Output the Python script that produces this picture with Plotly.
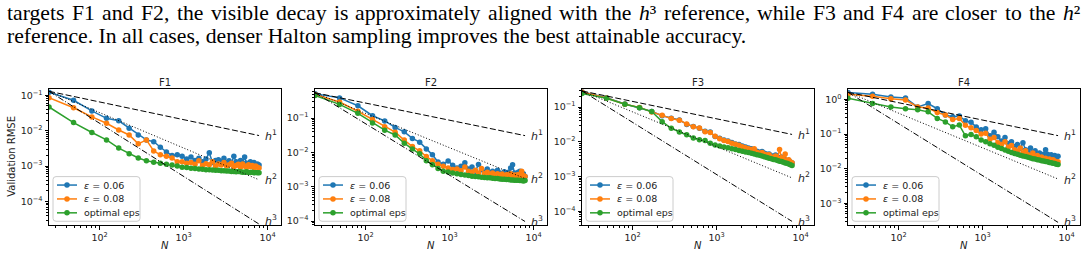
import numpy as np
import plotly.graph_objects as go

# ---------------- data ----------------
N = [25, 49, 81, 121, 169, 225, 289, 361, 441, 529,
     625, 729, 841, 961, 1089, 1225, 1369, 1521, 1681, 1849,
     2025, 2209, 2401, 2601, 2809, 3025, 3249, 3481, 3721, 3969,
     4225, 4489, 4761, 5041, 5329, 5625, 5929, 6241, 6561, 6889,
     7225, 7569, 7921]

panel_titles = ["F1", "F2", "F3", "F4"]
series_names = ["<i>ε</i> = 0.06", "<i>ε</i> = 0.08", "optimal eps"]

# validation RMSE, stored as log10 values
f1_eps006 = [-0.91, -1.14, -1.44, -1.65, -1.72, -1.93, -2.12, -2.26, -2.31, -2.47,
             -2.60, -2.70, -2.68, -2.72, -2.80, -2.74, -2.84, -2.78, -2.88, -2.80,
             -2.62, -2.90, -2.84, -2.82, -2.88, -2.78, -2.90, -2.85, -2.92, -2.72,
             -2.88, -2.94, -2.84, -2.92, -2.74, -2.92, -2.96, -2.88, -2.95, -2.90,
             -2.98, -2.94, -2.97]
f1_eps008 = [-1.07, -1.35, -1.61, -1.79, -1.98, -2.12, -2.37, -2.26, -2.57, -2.68,
             -2.72, -2.77, -2.88, -2.88, -2.92, -2.90, -2.95, -2.85, -2.98, -2.93,
             -2.96, -2.88, -3.00, -2.94, -2.97, -2.90, -3.00, -2.96, -2.92, -3.02,
             -2.98, -2.95, -3.03, -2.94, -3.00, -3.04, -2.96, -3.02, -2.98, -3.04,
             -3.00, -3.03, -3.05]
f1_opt = [-1.33, -1.77, -2.05, -2.26, -2.49, -2.65, -2.77, -2.85, -2.89, -2.92,
          -2.95, -2.97, -3.00, -3.03, -3.04, -3.06, -3.07, -3.08, -3.09, -3.10,
          -3.10, -3.11, -3.12, -3.12, -3.13, -3.13, -3.14, -3.14, -3.15, -3.15,
          -3.16, -3.15, -3.16, -3.17, -3.17, -3.16, -3.18, -3.18, -3.17, -3.19,
          -3.18, -3.19, -3.19]

f2_eps006 = [-0.29, -0.41, -0.64, -0.93, -1.08, -1.27, -1.40, -1.59, -1.70, -1.90,
             -2.07, -2.28, -2.34, -2.25, -2.37, -2.45, -2.40, -2.30, -2.48, -2.42,
             -2.55, -2.35, -2.50, -2.58, -2.48, -2.60, -2.55, -2.62, -2.52, -2.60,
             -2.64, -2.56, -2.62, -2.58, -2.45, -2.36, -2.60, -2.65, -2.58, -2.55,
             -2.66, -2.62, -2.70]
f2_eps008 = [-0.31, -0.53, -0.80, -1.04, -1.25, -1.41, -1.64, -1.83, -1.95, -2.12,
             -2.24, -2.34, -2.40, -2.45, -2.50, -2.48, -2.53, -2.42, -2.55, -2.58,
             -2.52, -2.60, -2.47, -2.62, -2.58, -2.64, -2.60, -2.66, -2.62, -2.67,
             -2.63, -2.68, -2.65, -2.66, -2.62, -2.68, -2.66, -2.69, -2.64, -2.68,
             -2.55, -2.67, -2.70]
f2_opt = [-0.34, -0.60, -0.86, -1.14, -1.35, -1.49, -1.73, -1.90, -2.04, -2.24,
          -2.36, -2.47, -2.55, -2.57, -2.60, -2.62, -2.64, -2.66, -2.67, -2.69,
          -2.70, -2.71, -2.72, -2.73, -2.74, -2.74, -2.75, -2.76, -2.76, -2.77,
          -2.78, -2.78, -2.79, -2.79, -2.80, -2.80, -2.81, -2.81, -2.81, -2.82,
          -2.82, -2.83, -2.82]

f3_eps006 = [-0.56, -0.73, -0.91, -1.02, -1.13, -1.25, -1.32, -1.37, -1.50, -1.56,
             -1.61, -1.70, -1.72, -1.85, -1.90, -1.95, -1.98, -2.02, -2.06, -2.08,
             -2.12, -2.15, -2.18, -2.20, -2.28, -2.27, -2.30, -2.28, -2.33, -2.36,
             -2.35, -2.40, -2.42, -2.38, -2.45, -2.48, -2.44, -2.50, -2.52, -2.55,
             -2.53, -2.58, -2.61]
f3_eps008 = [-0.57, -0.74, -0.92, -1.01, -1.14, -1.24, -1.33, -1.38, -1.49, -1.57,
             -1.60, -1.71, -1.73, -1.84, -1.91, -1.96, -1.99, -2.04, -2.07, -2.10,
             -2.14, -2.17, -2.20, -2.22, -2.20, -2.30, -2.33, -2.31, -2.36, -2.38,
             -2.37, -2.44, -2.45, -2.41, -2.47, -2.22, -2.46, -2.52, -2.35, -2.55,
             -2.52, -2.58, -2.60]
f3_opt = [-0.61, -0.75, -0.92, -1.02, -1.13, -1.42, -1.61, -1.72, -1.80, -1.89,
          -1.94, -1.96, -2.04, -2.09, -2.12, -2.15, -2.17, -2.20, -2.22, -2.25,
          -2.27, -2.29, -2.31, -2.33, -2.35, -2.37, -2.39, -2.41, -2.43, -2.45,
          -2.47, -2.49, -2.51, -2.52, -2.54, -2.56, -2.57, -2.59, -2.61, -2.62,
          -2.64, -2.66, -2.68]

f4_eps006 = [0.20, 0.15, 0.07, 0.04, -0.22, -0.12, -0.27, -0.45, -0.50, -0.48,
             -0.62, -0.66, -0.80, -0.88, -0.85, -1.05, -0.95, -1.08, -1.20, -1.10,
             -1.28, -1.22, -1.36, -1.30, -1.42, -1.25, -1.45, -1.52, -1.40, -1.55,
             -1.48, -1.60, -1.55, -1.62, -1.58, -1.45, -1.58, -1.66, -1.60, -1.70,
             -1.62, -1.68, -1.64]
f4_eps008 = [0.15, 0.09, 0.02, -0.02, -0.22, -0.25, -0.38, -0.45, -0.58, -0.55,
             -0.75, -0.82, -0.90, -1.00, -0.98, -1.15, -1.10, -1.25, -1.30, -1.22,
             -1.38, -1.33, -1.45, -1.50, -1.40, -1.55, -1.48, -1.60, -1.65, -1.55,
             -1.68, -1.62, -1.72, -1.66, -1.75, -1.70, -1.78, -1.72, -1.80, -1.74,
             -1.78, -1.82, -1.80]
f4_opt = [0.03, -0.12, -0.22, -0.27, -0.30, -0.36, -0.55, -0.65, -0.79, -0.74,
          -1.05, -1.01, -1.08, -1.17, -1.22, -1.28, -1.32, -1.38, -1.42, -1.46,
          -1.50, -1.53, -1.56, -1.58, -1.61, -1.63, -1.65, -1.67, -1.69, -1.71,
          -1.72, -1.74, -1.75, -1.77, -1.78, -1.79, -1.80, -1.82, -1.83, -1.84,
          -1.85, -1.87, -1.88]

panels = [
    [f1_eps006, f1_eps008, f1_opt],
    [f2_eps006, f2_eps008, f2_opt],
    [f3_eps006, f3_eps008, f3_opt],
    [f4_eps006, f4_eps008, f4_opt],
]

# reference slopes h^p with h ~ N^(-1/2), anchored at the first N
ref_start = [0.13, 0.55, 0.29, 1.6]
ref_orders = [1, 2, 3]
ref_labels = ["<i>h</i><sup>1</sup>", "<i>h</i><sup>2</sup>", "<i>h</i><sup>3</sup>"]

x_tick_exps = [2, 3, 4]
y_tick_exps = [[-4, -3, -2, -1], [-4, -3, -2, -1], [-4, -3, -2, -1], [-3, -2, -1, 0]]

caption_line1 = ("targets F1 and F2, the visible decay is approximately aligned with the "
                 "h³ reference, while F3 and F4 are closer to the h²")
caption_line2 = "reference. In all cases, denser Halton sampling improves the best attainable accuracy."

# ---------------- styling / layout ----------------
W, H = 1089, 256
colors = ["#1f77b4", "#ff7f0e", "#2ca02c"]
ref_dash = ["6px,2.5px", "1px,2px", "6px,2px,1px,2px"]
x_left = [49, 315, 582, 848]
panel_w = 232
y_top, y_bot = 89, 226
x_range = [np.log10(25), 4.16]
y_ranges = [[-4.67, -0.83], [-4.12, -0.16], [-4.40, -0.49], [-3.63, 0.29]]
font_sans = "DejaVu Sans"
txt_col = "#222222"
serif = "Liberation Serif"
cap_size = 21.7
cap_left, cap_right = 6, 1079

# Times-compatible advance widths (1/1000 em) used only to justify the caption line
_tw = dict(zip("abcdefghijklmnopqrstuvwxyz",
               [444, 500, 444, 500, 444, 333, 500, 500, 278, 278, 500, 278, 778,
                500, 500, 500, 500, 333, 389, 278, 500, 500, 722, 500, 500, 444]))
_tw.update({"F": 556, "H": 722, "I": 333, ",": 250, ".": 250, " ": 250,
            "²": 300, "³": 300})
_tw.update({d: 500 for d in "0123456789"})


def word_width(w):
    return sum(_tw.get(c, 500) for c in w) * cap_size / 1000


def word_markup(w):
    if w in ("h³", "h²"):
        return "<i>h</i>" + w[1:]
    return w


def px(x):
    return x / W


def py(y):
    return (H - y) / H


def pow_text(k):
    s = str(k).replace("-", "\u2212")
    return "10<sup>" + s + "</sup>"


fig = go.Figure()
annotations = []
shapes = []
layout_axes = {}

for i in range(4):
    sfx = "" if i == 0 else str(i + 1)
    xref, yref = "x" + sfx, "y" + sfx
    for s in range(3):
        fig.add_trace(go.Scatter(
            x=N, y=np.power(10.0, panels[i][s]), mode="lines+markers",
            name=series_names[s], line=dict(color=colors[s], width=1.5),
            marker=dict(color=colors[s], size=5.5, symbol="circle"),
            xaxis=xref, yaxis=yref, showlegend=False))
    for k, p in enumerate(ref_orders):
        y0 = ref_start[i]
        y1 = y0 * (N[0] / N[-1]) ** (p / 2)
        fig.add_trace(go.Scatter(
            x=[N[0], N[-1]], y=[y0, y1], mode="lines",
            line=dict(color="black", width=1, dash=ref_dash[k]),
            xaxis=xref, yaxis=yref, showlegend=False, hoverinfo="skip"))
        ylab = np.log10(y1)
        ylab = min(ylab, y_ranges[i][1]) if k < 2 else max(ylab, y_ranges[i][0] + 0.12)
        annotations.append(dict(
            x=np.log10(N[-1] * 1.12), y=ylab, xref=xref, yref=yref,
            text=ref_labels[k], showarrow=False, xanchor="left", yanchor="middle",
            font=dict(family=font_sans, size=11, color=txt_col)))

    axis_common = dict(
        showline=True, linecolor="black", linewidth=1, mirror=True,
        ticks="outside", ticklen=3.5, tickwidth=1, tickcolor="black",
        showgrid=False, zeroline=False,
        tickfont=dict(family=font_sans, size=9.5, color=txt_col),
        minor=dict(ticks="outside", ticklen=2, tickwidth=0.8, tickcolor="black",
                   dtick="D1", showgrid=False))
    layout_axes["xaxis" + sfx] = dict(
        type="log", range=x_range, anchor=yref,
        tickmode="array", tickvals=[10.0 ** e for e in x_tick_exps],
        ticktext=[pow_text(e) for e in x_tick_exps],
        domain=[px(x_left[i]), px(x_left[i] + panel_w)], **axis_common)
    layout_axes["yaxis" + sfx] = dict(
        type="log", range=y_ranges[i], anchor=xref,
        tickmode="array", tickvals=[10.0 ** e for e in y_tick_exps[i]],
        ticktext=[pow_text(e) for e in y_tick_exps[i]],
        domain=[py(y_bot), py(y_top)], **axis_common)

    # ---- legend (drawn by hand, matplotlib style) ----
    L = x_left[i]
    bx0, bx1, by0, by1, r = L + 4, L + 91, 177, 222, 3
    path = (f"M {px(bx0 + r)},{py(by0)} L {px(bx1 - r)},{py(by0)} "
            f"Q {px(bx1)},{py(by0)} {px(bx1)},{py(by0 + r)} "
            f"L {px(bx1)},{py(by1 - r)} Q {px(bx1)},{py(by1)} {px(bx1 - r)},{py(by1)} "
            f"L {px(bx0 + r)},{py(by1)} Q {px(bx0)},{py(by1)} {px(bx0)},{py(by1 - r)} "
            f"L {px(bx0)},{py(by0 + r)} Q {px(bx0)},{py(by0)} {px(bx0 + r)},{py(by0)} Z")
    shapes.append(dict(type="path", path=path, xref="paper", yref="paper",
                       fillcolor="rgba(255,255,255,0.8)",
                       line=dict(color="#cccccc", width=1), layer="above"))
    for s in range(3):
        ry = 185.5 + 14 * s
        shapes.append(dict(type="line", xref="paper", yref="paper",
                           x0=px(L + 8), x1=px(L + 28), y0=py(ry), y1=py(ry),
                           line=dict(color=colors[s], width=1.5), layer="above"))
        shapes.append(dict(type="circle", xref="paper", yref="paper",
                           x0=px(L + 18 - 2.75), x1=px(L + 18 + 2.75),
                           y0=py(ry + 2.75), y1=py(ry - 2.75),
                           fillcolor=colors[s], line=dict(width=0), layer="above"))
        annotations.append(dict(
            x=px(L + 33), y=py(ry), xref="paper", yref="paper", text=series_names[s],
            showarrow=False, xanchor="left", yanchor="middle",
            font=dict(family=font_sans, size=9.5, color=txt_col)))

    cx = px(x_left[i] + panel_w / 2)
    annotations.append(dict(
        x=cx, y=py(82), xref="paper", yref="paper", text=panel_titles[i],
        showarrow=False, xanchor="center", yanchor="middle",
        font=dict(family=font_sans, size=10, color=txt_col)))
    annotations.append(dict(
        x=cx, y=py(246.5), xref="paper", yref="paper", text="<i>N</i>",
        showarrow=False, xanchor="center", yanchor="middle",
        font=dict(family=font_sans, size=10, color=txt_col)))

annotations.append(dict(
    x=px(12), y=py(157), xref="paper", yref="paper", text="Validation RMSE",
    textangle=-90, showarrow=False, xanchor="center", yanchor="middle",
    font=dict(family=font_sans, size=10, color=txt_col)))

# ---- caption text: first line justified word by word, second line flush left ----
cap_font = dict(family=serif, size=cap_size, color="black")
words = caption_line1.split(" ")
widths = [word_width(w) for w in words]
gap = (cap_right - cap_left - sum(widths)) / (len(words) - 1)
xpos = cap_left
for w, wd in zip(words, widths):
    annotations.append(dict(
        x=px(xpos), y=py(12.5), xref="paper", yref="paper", text=word_markup(w),
        showarrow=False, xanchor="left", yanchor="middle", font=cap_font,
        borderpad=0))
    xpos += wd + gap
annotations.append(dict(
    x=px(cap_left), y=py(35.5), xref="paper", yref="paper", text=caption_line2,
    showarrow=False, xanchor="left", yanchor="middle", font=cap_font, borderpad=0))

fig.update_layout(
    width=W, height=H, margin=dict(l=0, r=0, t=0, b=0),
    paper_bgcolor="white", plot_bgcolor="white", showlegend=False,
    annotations=annotations, shapes=shapes, **layout_axes)

fig.write_html("out.html")
